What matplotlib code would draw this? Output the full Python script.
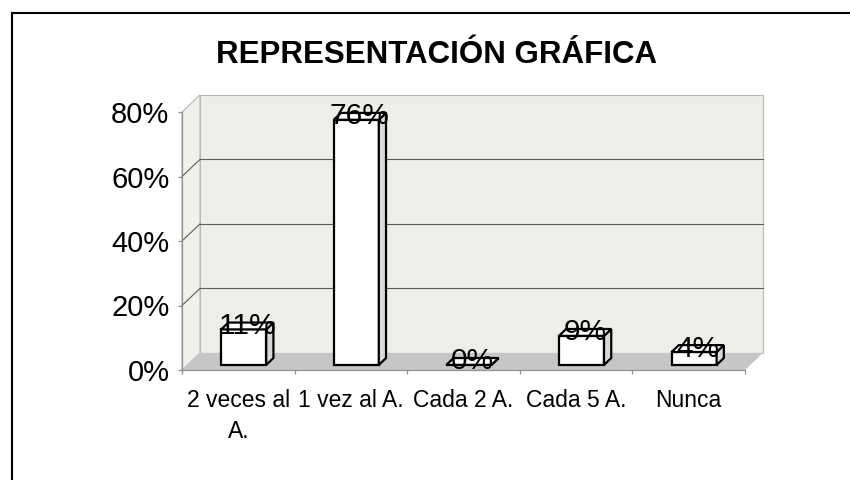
import numpy as np
import matplotlib
matplotlib.use('Agg')
import matplotlib.pyplot as plt
from matplotlib.patches import Polygon
from matplotlib.lines import Line2D

plt.rcParams['font.family'] = ['Liberation Sans', 'DejaVu Sans']

categories = ['2 veces al\nA.', '1 vez al A.', 'Cada 2 A.', 'Cada 5 A.', 'Nunca']
values = [11, 76, 0, 9, 4]
labels = ['11%', '76%', '0%', '9%', '4%']
yticks = [0, 20, 40, 60, 80]

# depth of the fake 3d box, in data units
DX, DY = 0.16, 5.3
FRONT, DEPTH = 0.3, 0.4
BW = 0.4

fig = plt.figure(figsize=(8.5, 4.8), dpi=100)
ax = fig.add_axes([182/850, 110/480, 563/850, 258/480])
n = len(categories)
ax.set_xlim(0, n)
ax.set_ylim(0, 80)

wall = '#eeeee8'
floor = '#c6c6c6'
grid = '#5a5a5a'

# back wall + side wall + floor
ax.add_patch(Polygon([(DX, DY), (n + DX, DY), (n + DX, 80 + DY), (DX, 80 + DY)],
                     closed=True, fc=wall, ec='#b8b8b8', lw=0.8, clip_on=False, zorder=0))
ax.add_patch(Polygon([(0, 0), (DX, DY), (DX, 80 + DY), (0, 80)],
                     closed=True, fc='#f1f1ec', ec='#b8b8b8', lw=0.8, clip_on=False, zorder=0))
for v in yticks[1:4]:
    ax.plot([DX, n + DX], [v + DY, v + DY], color=grid, lw=0.8, clip_on=False, zorder=1)
    ax.plot([0, DX], [v, v + DY], color=grid, lw=0.8, clip_on=False, zorder=1)
ax.add_patch(Polygon([(0, 0), (n, 0), (n + DX, DY), (DX, DY)],
                     closed=True, fc=floor, ec='none', clip_on=False, zorder=1))

# bars (front faces)
centers = np.arange(n) + 0.5
x0 = centers + FRONT * DX
b0 = FRONT * DY
ax.bar(x0, values, width=BW, bottom=b0, color='white', edgecolor='black',
       linewidth=1.6, zorder=3)
for xc, v in zip(x0, values):
    xl, xr = xc - BW / 2, xc + BW / 2
    top = b0 + v
    ddx, ddy = DEPTH * DX, DEPTH * DY
    ax.add_patch(Polygon([(xr, b0), (xr + ddx, b0 + ddy), (xr + ddx, top + ddy), (xr, top)],
                         closed=True, fc='#d9d9d9', ec='black', lw=1.6, clip_on=False, zorder=3))
    ax.add_patch(Polygon([(xl, top), (xr, top), (xr + ddx, top + ddy), (xl + ddx, top + ddy)],
                         closed=True, fc='white', ec='black', lw=1.6, clip_on=False, zorder=3))

for xc, v, lab in zip(x0, values, labels):
    ax.text(xc + DEPTH * DX / 2, b0 + v + DEPTH * DY / 2, lab, ha='center', va='center',
            fontsize=21.5, color='black', zorder=5, clip_on=False)

for s in ['top', 'right']:
    ax.spines[s].set_visible(False)
for s in ['left', 'bottom']:
    ax.spines[s].set_color('#909090')
    ax.spines[s].set_linewidth(0.9)
    ax.spines[s].set_zorder(2)
ax.patch.set_visible(False)

ax.set_yticks(yticks)
ax.set_yticklabels([f'{t}%' for t in yticks])
ax.tick_params(axis='y', length=3, width=0.9, color='#909090', pad=6, labelsize=21)
ax.set_xticks(np.arange(n + 1))
ax.set_xticklabels([])
ax.set_xticks(centers, minor=True)
ax.set_xticklabels(categories, minor=True, fontsize=16.5, linespacing=1.4,
                   family=['Liberation Sans Narrow', 'Liberation Sans', 'DejaVu Sans'])
ax.tick_params(axis='x', which='major', length=3, width=0.9, color='#909090')
ax.tick_params(axis='x', which='minor', length=0, pad=14)

fig.text(436.5/850, 1 - 63/480, 'REPRESENTACIÓN GRÁFICA', ha='center', va='baseline',
         fontsize=22.5, fontweight='bold')

# outer frame (top and left only)
fig.add_artist(Line2D([12/850, 1], [1 - 13/480, 1 - 13/480], transform=fig.transFigure,
                      color='black', lw=1.5))
fig.add_artist(Line2D([12/850, 12/850], [0, 1 - 13/480], transform=fig.transFigure,
                      color='black', lw=1.5))

fig.savefig('out.png', dpi=100, facecolor='white')
